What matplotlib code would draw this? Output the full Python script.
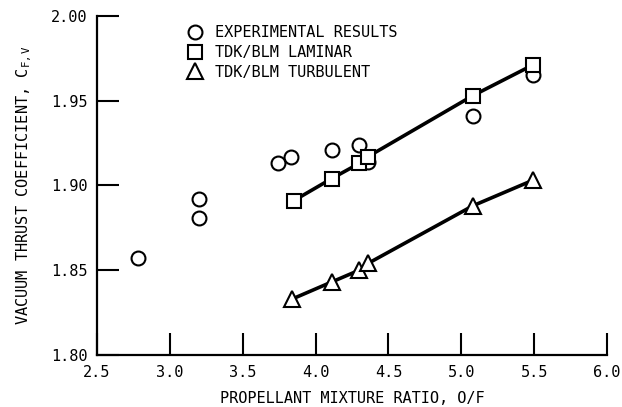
import matplotlib
matplotlib.use("Agg")
import matplotlib.pyplot as plt
from matplotlib.lines import Line2D

# experimental results
exp_of = [2.78, 3.20, 3.20, 3.74, 3.83, 4.11, 4.30, 4.36, 5.08, 5.49]
exp_cf = [1.857, 1.892, 1.881, 1.913, 1.917, 1.921, 1.924, 1.914, 1.941, 1.965]

# TDK/BLM laminar
lam_of = [3.85, 4.11, 4.30, 4.36, 5.08, 5.49]
lam_cf = [1.891, 1.904, 1.913, 1.917, 1.953, 1.971]

# TDK/BLM turbulent
turb_of = [3.84, 4.11, 4.30, 4.36, 5.08, 5.49]
turb_cf = [1.833, 1.843, 1.850, 1.854, 1.888, 1.903]

x_ticks = [2.5, 3.0, 3.5, 4.0, 4.5, 5.0, 5.5, 6.0]
y_ticks = [1.80, 1.85, 1.90, 1.95, 2.00]

plt.rcParams['font.family'] = 'DejaVu Sans Mono'
plt.rcParams['mathtext.fontset'] = 'custom'
plt.rcParams['mathtext.rm'] = 'DejaVu Sans Mono'
plt.rcParams['mathtext.it'] = 'DejaVu Sans Mono'

fig = plt.figure(figsize=(6.22, 4.07), dpi=100)
ax = fig.add_axes([0.156, 0.128, 0.82, 0.833])

ms = 10
mew = 1.5
ax.plot(lam_of, lam_cf, color='black', lw=2.6, zorder=2)
ax.plot(turb_of, turb_cf, color='black', lw=2.6, zorder=2)
ax.plot(exp_of, exp_cf, 'o', ms=ms, mfc='white', mec='black', mew=mew, zorder=3)
ax.plot(lam_of, lam_cf, 's', ms=ms - 0.5, mfc='white', mec='black', mew=mew, zorder=4)
ax.plot(turb_of, turb_cf, '^', ms=ms + 1, mfc='white', mec='black', mew=mew, zorder=4)

ax.set_xlim(2.5, 6.0)
ax.set_ylim(1.80, 2.00)
ax.set_xticks(x_ticks)
ax.set_yticks(y_ticks)
ax.set_xticklabels(['%.1f' % v for v in x_ticks], fontsize=11)
ax.set_yticklabels(['%.2f' % v for v in y_ticks], fontsize=11)
ax.tick_params(direction='in', length=16, width=1.5)
ax.tick_params(axis='y', pad=7)
ax.tick_params(axis='x', pad=7)

ax.spines['top'].set_visible(False)
ax.spines['right'].set_visible(False)
ax.spines['left'].set_linewidth(1.6)
ax.spines['bottom'].set_linewidth(1.6)

ax.set_xlabel('PROPELLANT MIXTURE RATIO, O/F', fontsize=11, labelpad=8)
ax.set_ylabel(r'VACUUM THRUST COEFFICIENT, C$_{F,V}$', fontsize=11, labelpad=12)

handles = [
    Line2D([], [], ls='none', marker='o', ms=ms, mfc='white', mec='black', mew=mew),
    Line2D([], [], ls='none', marker='s', ms=ms - 0.5, mfc='white', mec='black', mew=mew),
    Line2D([], [], ls='none', marker='^', ms=ms + 1, mfc='white', mec='black', mew=mew),
]
labels = ['EXPERIMENTAL RESULTS', 'TDK/BLM LAMINAR', 'TDK/BLM TURBULENT']
ax.legend(handles, labels, loc='upper left', bbox_to_anchor=(0.165, 0.99),
          frameon=False, fontsize=11, handletextpad=0.8, labelspacing=0.3,
          handlelength=1.0, borderaxespad=0)

fig.savefig('out.png', dpi=100)
